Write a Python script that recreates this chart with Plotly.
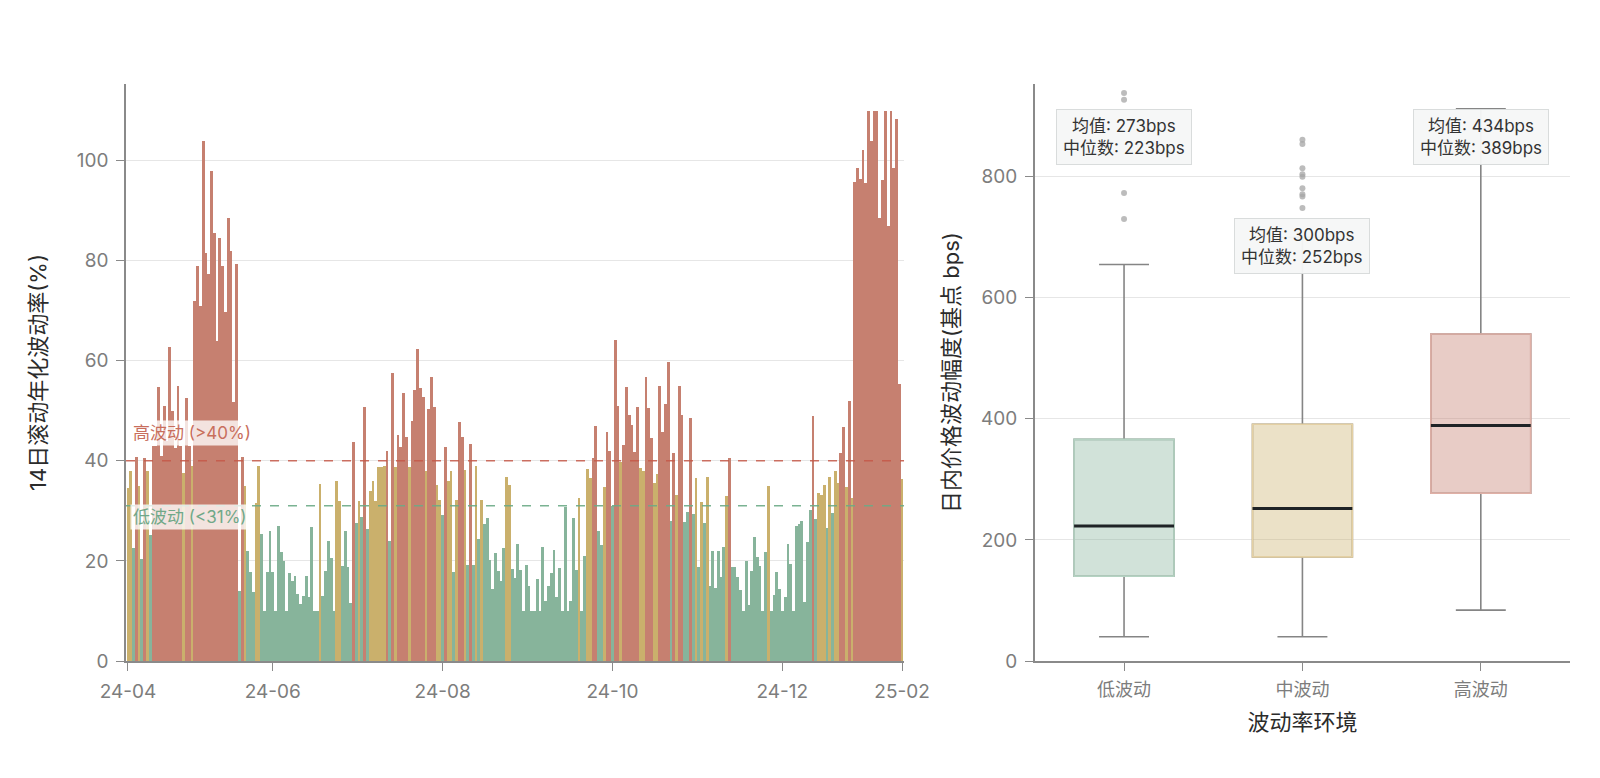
import plotly.graph_objects as go
from plotly.subplots import make_subplots

# 14日滚动年化波动率(%)，按两个月一段
vol_a = [34.5, 38, 22.6, 40.7, 35, 20.4, 40.6, 38, 25.2, 43, 43, 54.7, 41, 51, 44, 62.7,
         50, 42.5, 55, 43, 37.6, 52.6, 43, 39, 72, 79, 71, 104, 81.5, 77.3, 98, 85.5,
         64, 84.6, 79, 69.7, 88.5, 81.9, 51.8, 79.3, 14, 40.7, 35, 22, 17.7, 13.8, 31.5,
         39, 25.4, 10, 17.8, 26]
vol_b = [17.8, 10, 27, 21.8, 20, 10, 17.5, 16, 17, 13.3, 11.3, 13, 17, 12.7, 26.8, 10,
         10, 35.3, 13, 18, 24, 20.5, 10, 36, 31.9, 19, 26, 18.7, 11.5, 43.8, 27.5, 32,
         28.7, 50.7, 26.3, 33.9, 35.9, 32, 38.7, 38.8, 39, 41.9, 24, 57.5, 38.7, 45.2,
         42.7, 53.5, 44.7, 38.8, 48, 54.2, 62.3, 54.5, 52.8, 38, 50.3, 56.7, 50.8, 35.2, 32.2]
vol_c = [29.2, 42.7, 35.9, 37.9, 17.7, 32.2, 47.7, 44.7, 38.1, 19.1, 43.3, 19.1, 39, 24.3,
         32.2, 27.3, 28.5, 20.2, 14.3, 21.5, 18, 16, 22.5, 36.8, 35.2, 18.3, 16.5, 23.3,
         18.2, 10, 19.2, 15, 10, 10, 16.3, 10, 22.8, 11.9, 15, 17.5, 22.1, 12.7, 18.5, 10,
         30.8, 10, 11.9, 28.5, 18.1, 32.5, 10, 21, 38.3, 36.5, 40.5, 46.9, 25.9, 23.2,
         34.7, 45.7, 42]
vol_d = [30.9, 64.2, 50.9, 39.8, 43.1, 54.7, 49.2, 47.2, 41.8, 50.7, 38.5, 38, 56.7, 50.5,
         44.5, 35.5, 37.3, 54.9, 45.7, 51.3, 59.7, 27.9, 41.5, 33.2, 55, 49.1, 27.7, 29.7,
         48.5, 29.3, 36.5, 18.7, 31.7, 27.5, 36.7, 15, 21.9, 14.5, 22, 16.7, 22.7, 32.9,
         40.6, 18.8, 18.7, 16.8, 14.2, 10, 19.9, 11.1, 17.9, 24.7, 20.8, 19, 10, 21.8, 35,
         10, 13.2, 17.8, 14.3]
vol_e = [10, 12.8, 23.3, 19.3, 10, 27, 27.3, 28, 11.8, 23.8, 30.2, 49, 28.3, 33.6, 33.1,
         35.2, 26.6, 36.7, 29.6, 37.9, 35.5, 41.6, 46.8, 34.7, 52, 32.6, 95.7, 98.5, 96.3,
         102.2, 95.6, 110, 104, 110, 110, 88.5, 96.1, 110, 87, 110, 98.5, 108.3, 55.3, 36.4]

tick_idx = [0, 52, 113, 174, 235, 278]
tick_labels = ["24-04", "24-06", "24-08", "24-10", "24-12", "25-02"]

low_thr = 31
high_thr = 40

# 日内波动幅度箱线图统计
regimes = ["低波动", "中波动", "高波动"]
q1 = [140, 172, 277]
median = [223, 252, 389]
q3 = [366, 391, 540]
lower_fence = [40, 40, 84]
upper_fence = [655, 700, 912]
mean_bps = [273, 300, 434]
outliers_low = [730, 773, 927, 938]
outliers_mid = [748, 767, 771, 781, 800, 804, 814, 854, 861]
outliers_high = []

GREEN = "rgb(135,180,155)"
GOLD = "rgb(202,176,108)"
RED = "rgb(198,128,112)"
fills = ["rgba(135,180,155,0.38)", "rgba(202,176,108,0.38)", "rgba(198,128,112,0.4)"]
edges = ["rgb(180,211,194)", "rgb(228,208,163)", "rgb(224,176,166)"]
FONT = "Inter, Noto Sans CJK SC"
CJK = "Noto Sans CJK SC"

vol = vol_a + vol_b + vol_c + vol_d + vol_e
idx = list(range(len(vol)))
colors = [GREEN if v < low_thr else (RED if v > high_thr else GOLD) for v in vol]

fig = make_subplots(rows=1, cols=2)

fig.add_trace(go.Bar(x=idx, y=vol, marker=dict(color=colors, line=dict(width=0)),
                     showlegend=False), row=1, col=1)

fig.add_shape(type="line", xref="x domain", yref="y", x0=0, x1=1, y0=high_thr, y1=high_thr,
              line=dict(color="rgba(196,88,72,0.85)", width=1.5, dash="dash"))
fig.add_shape(type="line", xref="x domain", yref="y", x0=0, x1=1, y0=low_thr, y1=low_thr,
              line=dict(color="rgba(108,170,134,0.9)", width=1.5, dash="dash"))

fig.add_annotation(x=0.85, y=45.6, xref="x", yref="y", text="高波动 (>40%)", showarrow=False,
                   xanchor="left", yanchor="middle", bgcolor="rgba(255,255,255,0.78)",
                   font=dict(family=FONT, size=17, color="rgb(200,110,92)"), borderpad=2)
fig.add_annotation(x=0.85, y=28.8, xref="x", yref="y", text="低波动 (<31%)", showarrow=False,
                   xanchor="left", yanchor="middle", bgcolor="rgba(255,255,255,0.78)",
                   font=dict(family=FONT, size=17, color="rgb(112,168,136)"), borderpad=2)

for k, name in enumerate(regimes):
    # whiskers
    fig.add_trace(go.Box(x=[name], q1=[q1[k]], median=[median[k]], q3=[q3[k]],
                         lowerfence=[lower_fence[k]], upperfence=[upper_fence[k]],
                         width=0.56, whiskerwidth=0.5, fillcolor="rgba(0,0,0,0)",
                         line=dict(color="#858585", width=1.6), showlegend=False,
                         boxpoints=False), row=1, col=2)
    # box body
    fig.add_trace(go.Box(x=[name], q1=[q1[k]], median=[median[k]], q3=[q3[k]],
                         lowerfence=[q1[k]], upperfence=[q3[k]],
                         width=0.56, whiskerwidth=0, fillcolor=fills[k],
                         line=dict(color=edges[k], width=1.6), showlegend=False,
                         boxpoints=False), row=1, col=2)
    # median line
    fig.add_trace(go.Box(x=[name], q1=[median[k]], median=[median[k]], q3=[median[k]],
                         lowerfence=[median[k]], upperfence=[median[k]],
                         width=0.56, whiskerwidth=0, fillcolor="rgba(0,0,0,0)",
                         line=dict(color="#1f2326", width=3), showlegend=False,
                         boxpoints=False), row=1, col=2)

for name, pts in zip(regimes, [outliers_low, outliers_mid, outliers_high]):
    if pts:
        fig.add_trace(go.Scatter(x=[name] * len(pts), y=pts, mode="markers",
                                 marker=dict(color="rgba(165,165,165,0.75)", size=6),
                                 showlegend=False), row=1, col=2)

label_y = [866, 686, 866]
for k in range(3):
    fig.add_annotation(x=k, y=label_y[k], xref="x2", yref="y2", showarrow=False,
                       text=f"均值: {mean_bps[k]}bps<br>中位数: {median[k]}bps",
                       font=dict(family=FONT, size=17, color="#333333"),
                       bgcolor="rgba(246,247,247,0.96)", bordercolor="#d9dcdc",
                       borderwidth=1, borderpad=6, align="center")

axis_common = dict(showline=True, linecolor="#8a8a8a", linewidth=1.5, ticks="outside",
                   ticklen=8, tickwidth=1.4, tickcolor="#8a8a8a", zeroline=False,
                   ticklabelstandoff=4,
                   tickfont=dict(family=FONT, size=19, color="#7d7d7d"))
title_font = dict(family=FONT, size=22, color="#2b2b2b")

fig.update_xaxes(domain=[0, 0.5388], range=[-0.7, 278.7], tickmode="array",
                 tickvals=tick_idx, ticktext=tick_labels, showgrid=False,
                 row=1, col=1, **axis_common)
fig.update_yaxes(range=[0, 115.3], dtick=20, showgrid=True, gridcolor="#e6e6e6",
                 title=dict(text="14日滚动年化波动率(%)", standoff=24, font=title_font),
                 row=1, col=1, **axis_common)

fig.update_xaxes(domain=[0.6294, 1.0], type="category", range=[-0.5, 2.5], showgrid=False,
                 title=dict(text="波动率环境", standoff=14, font=title_font),
                 row=1, col=2, **{**axis_common,
                                  "tickfont": dict(family=CJK, size=18, color="#7d7d7d")})
fig.update_yaxes(range=[0, 953], dtick=200, showgrid=True, gridcolor="#e6e6e6",
                 title=dict(text="日内价格波动幅度(基点 bps)", standoff=15, font=title_font),
                 row=1, col=2, **axis_common)

fig.update_layout(width=1600, height=778, plot_bgcolor="white", paper_bgcolor="white",
                  margin=dict(l=118, r=25, t=76, b=125), bargap=0, boxmode="overlay",
                  font=dict(family=FONT), showlegend=False)

fig.write_html("out.html")
